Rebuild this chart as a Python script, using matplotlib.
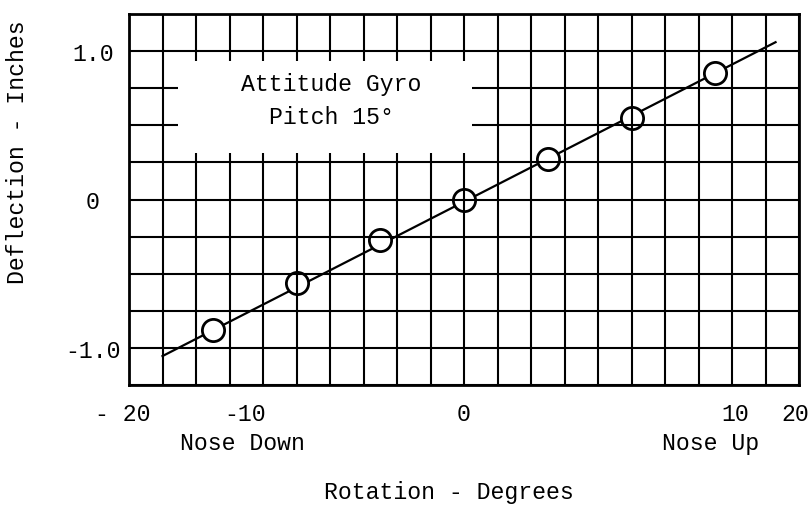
import matplotlib
matplotlib.use("Agg")
import matplotlib.pyplot as plt
import matplotlib.transforms as mtransforms
from matplotlib.ticker import MultipleLocator
from matplotlib.patches import Rectangle

# ---- data ----
rotation_deg = [-15, -10, -5, 0, 5, 10, 15]
deflection_in = [-0.88, -0.56, -0.27, 0.0, 0.27, 0.55, 0.85]
fit_x = [-18.0, 18.6]
fit_y = [-1.055, 1.06]

x_tick_pos = [-20.0, -13.1, 0.0, 16.2, 19.8]
x_tick_labels = ["- 20", "-10", "0", "10", "20"]
y_tick_pos = [-1.0, 0.0, 1.0]
y_tick_labels = ["-1.0", "0", "1.0"]

FONT = "Liberation Mono"
FS = 16.7

fig = plt.figure(figsize=(8.10, 5.06), dpi=100)
ax = fig.add_axes([129/810, 1-386/506, (799-129)/810, (386-15)/506])

# ticks
ax.set_xticks(x_tick_pos)
ax.set_xticklabels(x_tick_labels, family=FONT, fontsize=FS)
ax.set_yticks(y_tick_pos)
ax.set_yticklabels(y_tick_labels, family=FONT, fontsize=FS, ha="center")
ax.tick_params(which="both", length=0)
ax.tick_params(axis="y", pad=26)
ax.tick_params(axis="x", pad=12)
# the "- 20" label sits a little left of the frame in the original
first = ax.get_xticklabels()[0]
first.set_transform(first.get_transform() +
                    mtransforms.ScaledTranslation(-6/100, 0, fig.dpi_scale_trans))

# grid (every 2 degrees, every 0.25 in)
ax.xaxis.set_minor_locator(MultipleLocator(2))
ax.yaxis.set_minor_locator(MultipleLocator(0.25))
ax.xaxis.remove_overlapping_locs = False
ax.yaxis.remove_overlapping_locs = False
ax.set_axisbelow(False)
ax.grid(which="minor", color="black", linewidth=1.5)
ax.grid(which="major", visible=False)

ax.set_xlim(-20, 20)
ax.set_ylim(-1.25, 1.25)

# blank panel for the annotation
ax.add_patch(Rectangle((-17.1, 0.31), 17.6, 0.62, facecolor="white",
                       edgecolor="none", zorder=2.6))
ax.text(-7.9, 0.78, "Attitude Gyro", family=FONT, fontsize=FS,
        ha="center", va="center", zorder=3)
ax.text(-7.9, 0.56, "Pitch 15°", family=FONT, fontsize=FS,
        ha="center", va="center", zorder=3)

# fitted line and data points
ax.plot(fit_x, fit_y, color="black", linewidth=1.6, zorder=1)
ax.plot(rotation_deg, deflection_in, linestyle="none", marker="o",
        markersize=16, markerfacecolor="white", markeredgecolor="black",
        markeredgewidth=2.0, zorder=2)

for s in ax.spines.values():
    s.set_linewidth(2.0)
    s.set_zorder(4)

# labels
ax.text(-13.2, -0.155, "Nose Down", family=FONT, fontsize=FS, ha="center",
        va="center", transform=ax.get_xaxis_transform())
ax.text(14.7, -0.155, "Nose Up", family=FONT, fontsize=FS, ha="center",
        va="center", transform=ax.get_xaxis_transform())

ax.set_xlabel("Rotation - Degrees", family=FONT, fontsize=FS)
ax.xaxis.set_label_coords(0.478, -0.286)
ax.xaxis.label.set_va("center")
ax.set_ylabel("Deflection - Inches", family=FONT, fontsize=FS)
ax.yaxis.set_label_coords(-0.166, 0.63)
ax.yaxis.label.set_va("center")

fig.savefig("out.png", dpi=100)
